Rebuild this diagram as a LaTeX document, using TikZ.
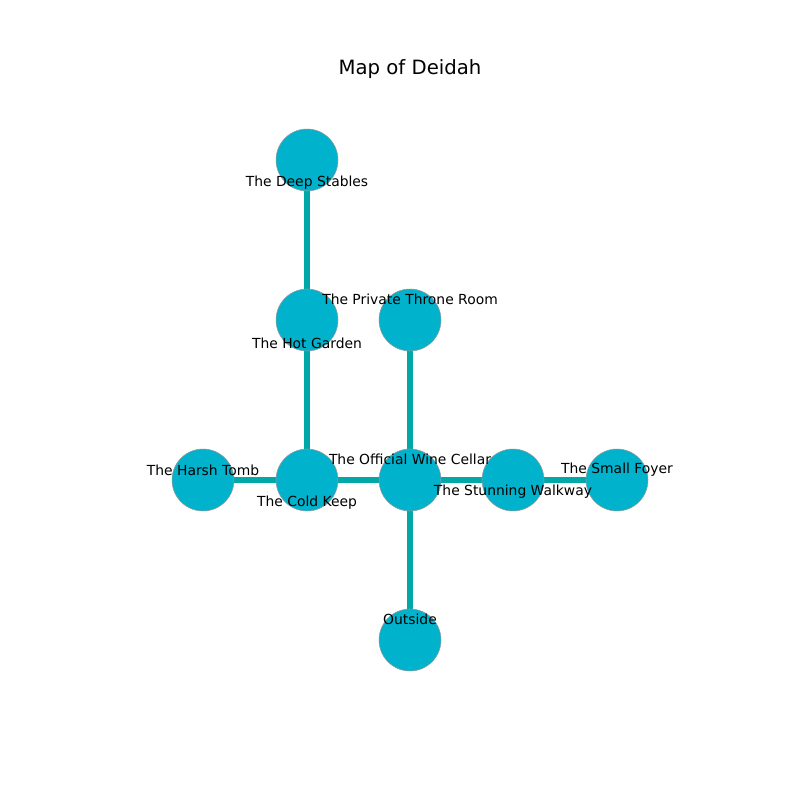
\documentclass[tikz,border=0pt]{standalone}
\usepackage{fontspec}
\setmainfont{DejaVu Sans}
\usepackage{tikz}
\usetikzlibrary{positioning}

\definecolor{roomfill}{HTML}{00B2CC}
\definecolor{roomline}{HTML}{00A8A8}

\tikzset{
  room/.style={circle, fill=roomfill, draw=gray!80, line width=0.3pt, minimum size=1.24cm, inner sep=0pt},
  passage/.style={draw=roomline, line width=3pt},
  roomname/.style={font=\fontsize{7.9}{9}\selectfont, inner sep=0pt, text=black}
}

\begin{document}
\begin{tikzpicture}[x=0.02cm, y=-0.02cm]
    \useasboundingbox (0,0) rectangle (800,800);
    \node[font=\fontsize{11.2}{13}\selectfont] (title) at (410,69) {Map of Deidah};

    % room centres
    \coordinate (stables) at (307,160);
    \coordinate (garden) at (307,320);
    \coordinate (throne) at (410,320);
    \coordinate (tomb) at (203,480);
    \coordinate (keep) at (307,480);
    \coordinate (cellar) at (410,480);
    \coordinate (walkway) at (513,480);
    \coordinate (foyer) at (617,480);
    \coordinate (outside) at (410,640);

    % passages
    \draw[passage] (stables) -- (garden);
    \draw[passage] (garden) -- (keep);
    \draw[passage] (tomb) -- (keep);
    \draw[passage] (keep) -- (cellar);
    \draw[passage] (cellar) -- (throne);
    \draw[passage] (cellar) -- (walkway);
    \draw[passage] (walkway) -- (foyer);
    \draw[passage] (cellar) -- (outside);

    % rooms
    \foreach \r in {stables,garden,throne,tomb,keep,cellar,walkway,foyer,outside}
      \node[room] (\r room) at (\r) {};

    % names
    \node[roomname] (stablesname) at (307,183) {The Deep Stables};
    \node[roomname] (gardenname) at (307,343) {The Hot Garden};
    \node[roomname] (thronename) at (410,299) {The Private Throne Room};
    \node[roomname] (tombname) at (203,470) {The Harsh Tomb};
    \node[roomname] (keepname) at (307,503) {The Cold Keep};
    \node[roomname] (cellarname) at (410,459) {The Official Wine Cellar};
    \node[roomname] (walkwayname) at (513,492) {The Stunning Walkway};
    \node[roomname] (foyername) at (617,470) {The Small Foyer};
    \node[roomname] (outsidename) at (410,619) {Outside};
\end{tikzpicture}
\end{document}
